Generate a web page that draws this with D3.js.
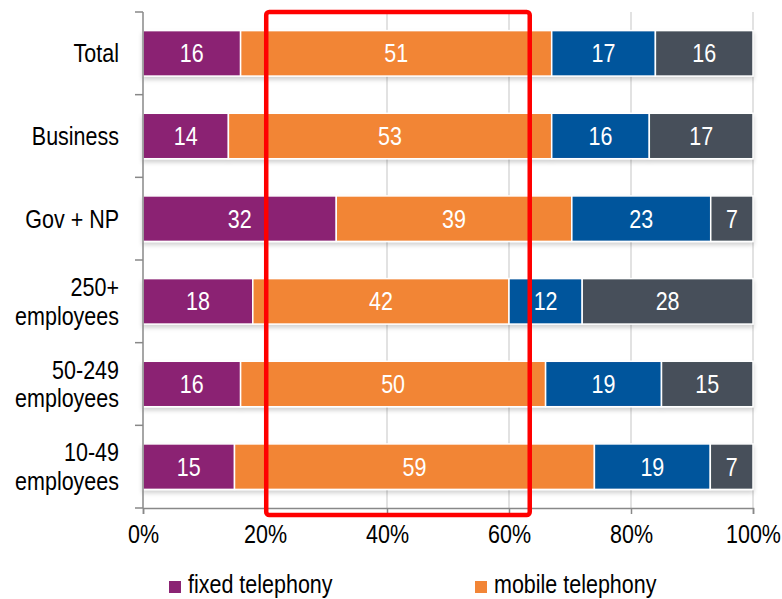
<!DOCTYPE html>
<html>
<head>
<meta charset="utf-8">
<script src="https://cdn.jsdelivr.net/npm/d3@7"></script>
<style>
  body { margin: 0; background: #fff; }
  text { font-family: "Liberation Sans", Arial, sans-serif; }
</style>
</head>
<body>
<div id="chart"></div>
<script>
// Categories, top to bottom.
const categories = [
  ["Total"],
  ["Business"],
  ["Gov + NP"],
  ["250+", "employees"],
  ["50-249", "employees"],
  ["10-49", "employees"],
];

// Series (shares in %), one value per category.
const seriesNames = ["fixed telephony", "mobile telephony"];
const fixedValues = [16, 14, 32, 18, 16, 15];
const mobileValues = [51, 53, 39, 42, 50, 59];
const thirdValues = [17, 16, 23, 12, 19, 19];
const fourthValues = [16, 17, 7, 28, 15, 7];
const seriesColors = ["#8b2373", "#f28536", "#06559c", "#46505a"];

const xTicks = [0, 20, 40, 60, 80, 100];
// Highlighted range (red frame), in %.
const highlight = [20.2, 63.4];

const width = 782;
const height = 599;
const margin = { top: 12, right: 29, bottom: 91, left: 143 };
const fontSize = 25;
const narrow = 0.86; // horizontal squeeze to mimic a condensed face

const svg = d3.select("#chart")
  .append("svg")
    .attr("width", width)
    .attr("height", height);

// Draws condensed text anchored at (x, y).
function narrowText(parent, x0, y0) {
  return parent.append("text")
    .attr("transform", `translate(${x0},${y0}) scale(${narrow},1)`)
    .attr("font-size", fontSize);
}

// Soft shadow under the bars.
const filter = svg.append("defs")
  .append("filter")
    .attr("id", "shadow")
    .attr("x", "-5%").attr("y", "-20%")
    .attr("width", "110%").attr("height", "160%");
filter.append("feDropShadow")
  .attr("dx", 0).attr("dy", 3)
  .attr("stdDeviation", 2)
  .attr("flood-color", "#000")
  .attr("flood-opacity", 0.18);

const x = d3.scaleLinear()
  .domain([0, 1])
  .range([margin.left, width - margin.right]);

const y = d3.scaleBand()
  .domain(categories.map((d, i) => i))
  .range([margin.top, height - margin.bottom])
  .paddingInner(0.45)
  .paddingOuter(0.225);

const rows = categories.map((c, i) => {
  const row = { i };
  [fixedValues, mobileValues, thirdValues, fourthValues]
    .forEach((vals, k) => row[k] = vals[i]);
  return row;
});
// Each bar is scaled to 100% (the shares are rounded).
const stacked = d3.stack()
  .keys([0, 1, 2, 3])
  .offset(d3.stackOffsetExpand)(rows);

// Gridlines
svg.append("g")
  .selectAll("line")
  .data(xTicks.slice(1))
  .join("line")
    .attr("x1", d => x(d / 100)).attr("x2", d => x(d / 100))
    .attr("y1", margin.top).attr("y2", height - margin.bottom)
    .attr("stroke", "#d9d9d9")
    .attr("stroke-width", 1.5);

// Bars
const bars = svg.append("g").attr("filter", "url(#shadow)");
stacked.forEach((layer, k) => {
  bars.append("g")
    .selectAll("rect")
    .data(layer)
    .join("rect")
      .attr("x", d => x(d[0]))
      .attr("y", d => y(d.data.i))
      .attr("width", d => x(d[1]) - x(d[0]))
      .attr("height", y.bandwidth())
      .attr("fill", seriesColors[k])
      .attr("stroke", "#fff")
      .attr("stroke-width", 1.5);
});

// Value labels
const labels = svg.append("g");
stacked.forEach((layer, k) => {
  layer.forEach(d => {
    narrowText(labels, (x(d[0]) + x(d[1])) / 2, y(d.data.i) + y.bandwidth() / 2)
      .attr("dy", "0.36em")
      .attr("text-anchor", "middle")
      .attr("fill", "#fff")
      .text(d.data[k]);
  });
});

// X axis
const xAxis = svg.append("g")
  .attr("transform", `translate(0,${height - margin.bottom})`)
  .call(d3.axisBottom(x).tickValues(xTicks.map(d => d / 100)).tickFormat(d3.format(".0%")).tickSize(6).tickPadding(0));
xAxis.select(".domain").attr("stroke", "#888").attr("stroke-width", 1.5);
xAxis.selectAll(".tick line").attr("stroke", "#888").attr("stroke-width", 1.5);
xAxis.selectAll(".tick text")
  .attr("y", 0)
  .attr("dy", 0)
  .attr("transform", `translate(0,35) scale(${narrow},1)`)
  .attr("font-size", fontSize)
  .attr("fill", "#000")
  .attr("font-family", "'Liberation Sans', Arial, sans-serif");

// Y axis: line plus ticks at band boundaries
const yAxis = svg.append("g");
yAxis.append("line")
  .attr("x1", margin.left).attr("x2", margin.left)
  .attr("y1", margin.top).attr("y2", height - margin.bottom)
  .attr("stroke", "#888").attr("stroke-width", 1.5);
const step = y.step();
yAxis.selectAll(".ytick")
  .data(d3.range(categories.length + 1))
  .join("line")
    .attr("x1", margin.left - 8).attr("x2", margin.left)
    .attr("y1", i => margin.top + i * step)
    .attr("y2", i => margin.top + i * step)
    .attr("stroke", "#888").attr("stroke-width", 1.5);

// Category labels
categories.forEach((lines, i) => {
  const cy = y(i) + y.bandwidth() / 2;
  const t = narrowText(svg, margin.left - 24, cy)
    .attr("text-anchor", "end")
    .attr("fill", "#000");
  lines.forEach((line, j) => {
    t.append("tspan")
      .attr("x", 0)
      .attr("y", (j - (lines.length - 1) / 2) * 29)
      .attr("dy", "0.36em")
      .text(line);
  });
});

// Red highlight frame
svg.append("rect")
  .attr("x", x(highlight[0] / 100))
  .attr("y", margin.top)
  .attr("width", x(highlight[1] / 100) - x(highlight[0] / 100))
  .attr("height", height - margin.bottom - margin.top + 7)
  .attr("rx", 3)
  .attr("fill", "none")
  .attr("stroke", "#ff0000")
  .attr("stroke-width", 4.5);

// Legend (only the first row is visible)
const legend = svg.append("g");
seriesNames.forEach((name, k) => {
  const lx = k === 0 ? 169 : 475;
  const ly = 584;
  legend.append("rect")
    .attr("x", lx).attr("y", ly - 3)
    .attr("width", 12).attr("height", 12)
    .attr("fill", seriesColors[k]);
  narrowText(legend, lx + 19, ly)
    .attr("dy", "0.36em")
    .attr("fill", "#000")
    .text(name);
});
</script>
</body>
</html>
